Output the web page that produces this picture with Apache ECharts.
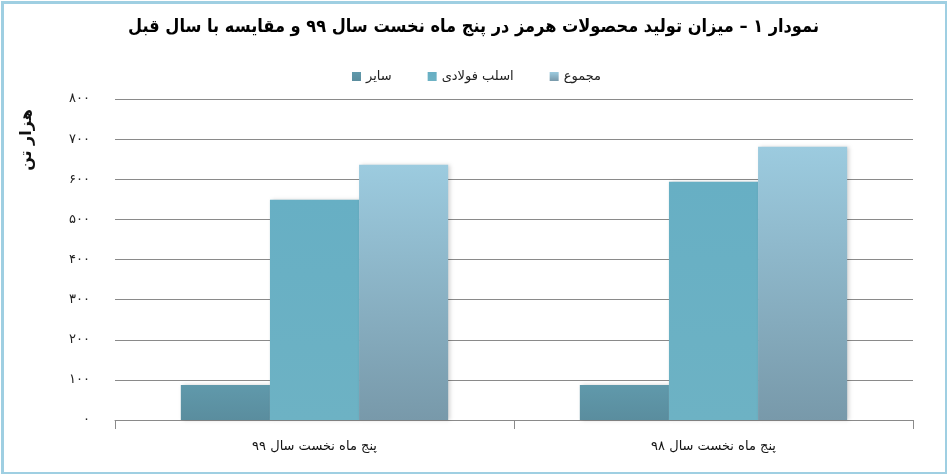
<!DOCTYPE html>
<html>
<head>
<meta charset="utf-8">
<script src="https://cdn.jsdelivr.net/npm/echarts@6/dist/echarts.min.js"></script>
<style>
html,body{margin:0;padding:0;background:#fff;}
#c{width:947px;height:474px;}
</style>
</head>
<body>
<div id="c"></div>
<script>
var titleText = 'نمودار ۱ – میزان تولید محصولات هرمز در پنج ماه نخست سال ۹۹ و مقایسه با سال قبل';
var yAxisName = 'هزار تن';
var categories = ['پنج ماه نخست سال ۹۹', 'پنج ماه نخست سال ۹۸'];
var seriesNames = ['سایر', 'اسلب فولادی', 'مجموع'];
var otherValues = [87, 87];
var slabValues = [549, 594];
var totalValues = [636, 681];
var yTicks = { min: 0, max: 800, interval: 100 };

function fa(n) {
  var d = '۰۱۲۳۴۵۶۷۸۹';
  return String(n).replace(/[0-9]/g, function (c) { return d[+c]; });
}
function grad(top, bottom) {
  return new echarts.graphic.LinearGradient(0, 0, 0, 1, [
    { offset: 0, color: top }, { offset: 1, color: bottom }
  ]);
}
var font = 'DejaVu Sans';
var chart = echarts.init(document.getElementById('c'), null, { renderer: 'canvas' });
var barShadow = { shadowBlur: 4, shadowColor: 'rgba(0,0,0,0.18)', shadowOffsetX: 2, shadowOffsetY: 0 };
chart.setOption({
  animation: false,
  backgroundColor: '#ffffff',
  title: {
    text: titleText,
    left: 'center',
    top: 13,
    textStyle: { fontFamily: '"DejaVu Sans Condensed", "DejaVu Sans"', fontWeight: 'bold', fontSize: 18, color: '#000' }
  },
  legend: {
    left: 347,
    top: 65,
    itemWidth: 9,
    itemHeight: 9,
    itemGap: 36,
    icon: 'rect',
    textStyle: { fontFamily: font, fontSize: 13, color: '#222' },
    data: seriesNames
  },
  grid: { left: 115, right: 34, top: 99, bottom: 54, containLabel: false },
  xAxis: {
    type: 'category',
    data: categories,
    axisLine: { show: true, lineStyle: { color: '#8a8a8a', width: 1 } },
    axisTick: { show: true, length: 9, lineStyle: { color: '#8a8a8a' } },
    axisLabel: { fontFamily: font, fontSize: 13, color: '#111', margin: 20 }
  },
  yAxis: {
    type: 'value',
    min: yTicks.min,
    max: yTicks.max,
    interval: yTicks.interval,
    axisLine: { show: false },
    axisTick: { show: false },
    splitLine: { lineStyle: { color: '#8a8a8a', width: 1 } },
    axisLabel: { fontFamily: font, fontSize: 13, color: '#222', margin: 25, formatter: function (v) { return fa(v); } }
  },
  graphic: [
    {
      type: 'rect', left: 0, top: 0,
      shape: { x: 1.5, y: 1.5, width: 944, height: 471 },
      style: { fill: 'none', stroke: '#9fcfe2', lineWidth: 3 },
      silent: true
    },
    {
      type: 'text', x: 27, y: 140, rotation: Math.PI / 2,
      style: { text: yAxisName, fontFamily: font, fontWeight: 'bold', fontSize: 16, fill: '#111', textAlign: 'center', textVerticalAlign: 'middle' }
    }
  ],
  series: [
    {
      name: seriesNames[0], type: 'bar', data: otherValues,
      barGap: '0%', barCategoryGap: '33%',
      itemStyle: Object.assign({ color: grad('#6099ab', '#5a8d9e') }, barShadow)
    },
    {
      name: seriesNames[1], type: 'bar', data: slabValues,
      itemStyle: Object.assign({ color: grad('#67afc4', '#6db2c4') }, barShadow)
    },
    {
      name: seriesNames[2], type: 'bar', data: totalValues,
      itemStyle: Object.assign({ color: grad('#9ccbdf', '#7899aa') }, barShadow)
    }
  ]
});
</script>
</body>
</html>
